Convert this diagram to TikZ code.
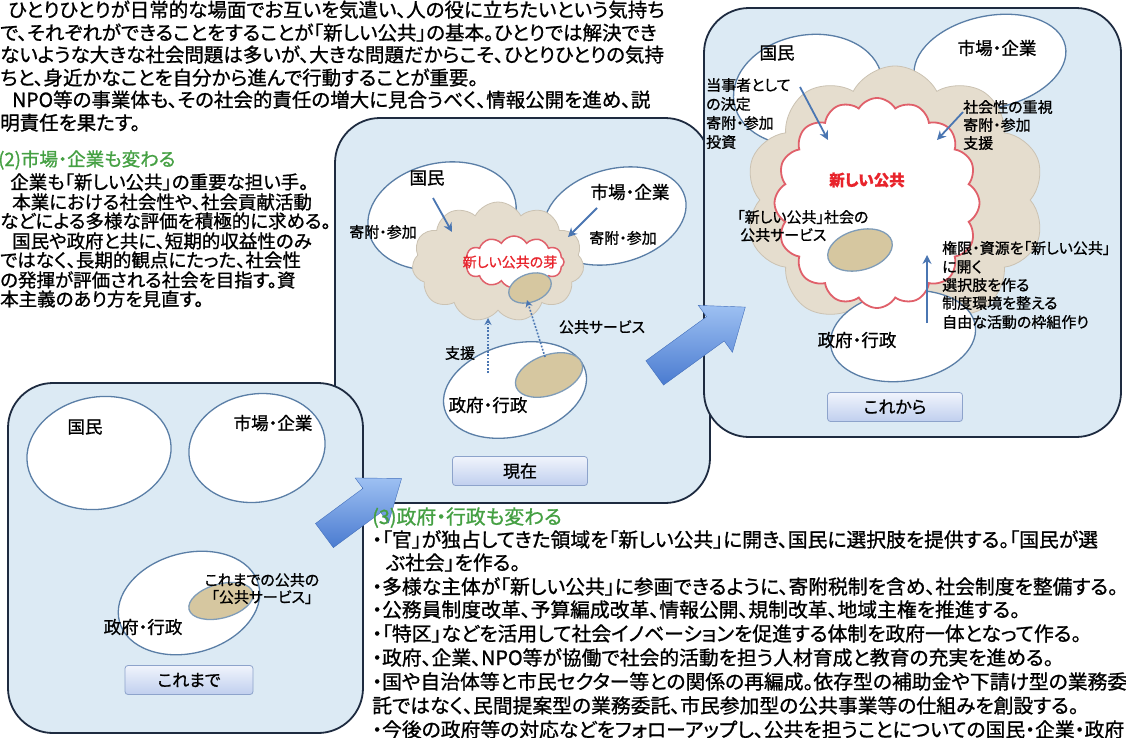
\documentclass[tikz,border=0pt]{standalone}
\usepackage{fontspec}
\setmainfont{Noto Sans CJK JP}[RawFeature=+palt, FakeBold=1.0]
\usetikzlibrary{shapes.geometric,shapes.symbols,arrows.meta}
\definecolor{panelfill}{HTML}{DCEAF4}
\definecolor{panelline}{HTML}{1E2B40}
\definecolor{ellline}{HTML}{5A7EA6}
\definecolor{tanfill}{HTML}{D6C7A0}
\definecolor{tanline}{HTML}{7F9CB8}
\definecolor{cloudfill}{HTML}{E5DDCE}
\definecolor{cloudline}{HTML}{CBC2B2}
\definecolor{redline}{HTML}{E0606A}
\definecolor{redtext}{HTML}{E8242C}
\definecolor{arrowblue}{HTML}{4A76B2}
\definecolor{greentext}{HTML}{45A043}
\definecolor{btntop}{HTML}{F0F4FC}
\definecolor{btnbot}{HTML}{C0CFEE}
\definecolor{btnline}{HTML}{8DA3CB}
\definecolor{bigA}{HTML}{4A7BD0}
\definecolor{bigB}{HTML}{9DC0F2}
\newcommand\fIntro{\fontsize{19.5}{22}\selectfont}
\newcommand\fSec{\fontsize{18.5}{21}\selectfont}
\newcommand\fSecB{\fontsize{19.8}{23}\selectfont}
\newcommand\fLbl{\fontsize{17.5}{20}\selectfont}
\newcommand\fSml{\fontsize{15}{17}\selectfont}
\newcommand\fBtn{\fontsize{17}{20}\selectfont}
\begin{document}
\begin{tikzpicture}[x=1pt,y=-1pt,
  panel/.style={draw=panelline, line width=1.8pt, fill=panelfill, rounded corners=45pt, inner sep=0pt},
  party/.style={ellipse, draw=ellline, line width=1.3pt, fill=white, inner sep=0pt},
  svc/.style={ellipse, draw=tanline, line width=1.3pt, fill=tanfill, inner sep=0pt},
  bigcloud/.style={cloud, cloud puffs=11, cloud puff arc=125, cloud ignores aspect, draw=cloudline, line width=0.8pt, fill=cloudfill, inner sep=0pt},
  redcloud/.style={cloud, cloud puffs=16, cloud puff arc=120, cloud ignores aspect, draw=redline, line width=1.8pt, fill=white, inner sep=0pt},
  ln/.style={anchor=west, inner sep=0pt, text height=0.8em, text depth=0.2em},
  lbl/.style={inner sep=0pt, font=\fLbl},
  sml/.style={inner sep=0pt, font=\fSml},
  sl/.style={anchor=west, inner sep=0pt, font=\fSml},
  btn/.style={draw=btnline, line width=0.8pt, rounded corners=3pt, top color=btntop, bottom color=btnbot, font=\fBtn, inner sep=0pt, minimum height=29pt},
  inarrow/.style={draw=arrowblue, line width=1.8pt, -{Stealth[length=9pt,width=9pt]}},
  dotarrow/.style={draw=arrowblue, line width=1.6pt, dash pattern=on 1.8pt off 1.6pt, -{Stealth[length=7pt,width=7pt]}},
  bigarr/.style={top color=bigB, bottom color=bigA, draw=bigA!90!black, line width=0.4pt}
]
\useasboundingbox (0,0) rectangle (1126,737);
\fill[white] (0,0) rectangle (1126,737);

% ---------- intro text ----------
\begin{scope}[every node/.append style={font=\fIntro}]
\node[ln] (i1) at (8,14) {ひとりひとりが日常的な場面でお互いを気遣い、人の役に立ちたいという気持ち};
\node[ln] (i2) at (0,37) {で、それぞれができることをすることが「新しい公共」の基本。ひとりでは解決でき};
\node[ln] (i3) at (0,59) {ないような大きな社会問題は多いが、大きな問題だからこそ、ひとりひとりの気持};
\node[ln] (i4) at (0,82) {ちと、身近かなことを自分から進んで行動することが重要。};
\node[ln] (i5) at (12,104) {NPO等の事業体も、その社会的責任の増大に見合うべく、情報公開を進め、説};
\node[ln] (i6) at (0,127) {明責任を果たす。};
\end{scope}

% ---------- section (2) ----------
\begin{scope}[every node/.append style={font=\fSec}]
\node[ln, text=greentext] (s2h) at (-2,163) {(2)市場・企業も変わる};
\node[ln] (s21) at (10,186) {企業も「新しい公共」の重要な担い手。};
\node[ln] (s22) at (12,206) {本業における社会性や、社会貢献活動};
\node[ln] (s23) at (0,225) {などによる多様な評価を積極的に求める。};
\node[ln] (s24) at (12,245) {国民や政府と共に、短期的収益性のみ};
\node[ln] (s25) at (0,264) {ではなく、長期的観点にたった、社会性};
\node[ln] (s26) at (0,284) {の発揮が評価される社会を目指す。資};
\node[ln] (s27) at (0,303) {本主義のあり方を見直す。};
\end{scope}

% ---------- panel 2 (現在) ----------
\node[panel, minimum width=375pt, minimum height=385pt] (p2) at (522.5,310.5) {};
\node[party, minimum width=150pt, minimum height=106pt, rotate=12] (m2) at (442,216) {};
\node[party, minimum width=145pt, minimum height=94pt, rotate=15] (b2) at (615,216) {};
\node[bigcloud, minimum width=172pt, minimum height=120pt] (c2) at (498,262) {};
\node[redcloud, cloud puffs=12, minimum width=100pt, minimum height=52pt, line width=1.5pt] (r2) at (514,262) {};
\node[svc, minimum width=44pt, minimum height=28pt, rotate=20] (e2) at (530,288) {};
\node[party, minimum width=146pt, minimum height=92pt, rotate=15] (g2) at (515,390) {};
\node[svc, minimum width=70pt, minimum height=40pt, rotate=20] (f2) at (549,375) {};
\node[lbl] (m2l) at (427,178) {国民};
\node[lbl] (b2l) at (630,192) {市場・企業};
\node[sml] (m2k) at (383,232) {寄附・参加};
\node[sml] (b2k) at (623,238) {寄附・参加};
\node[inner sep=0pt, font=\fontsize{14}{16}\selectfont, text=redtext] (r2l) at (510,262) {新しい公共の芽};
\node[sml] (g2s) at (460,353) {支援};
\node[sml] (g2p) at (602,327) {公共サービス};
\node[lbl] (g2l) at (488,405) {政府・行政};
\node[btn, minimum width=135pt] (btn2) at (520,471) {現在};
\coordinate (a21s) at (433,198); \coordinate (a21e) at (452,232);
\coordinate (a22s) at (597,208); \coordinate (a22e) at (568,237);
\coordinate (d21s) at (488,373); \coordinate (d21e) at (488,318);
\coordinate (d22s) at (545,357); \coordinate (d22e) at (527,300);
\draw[inarrow] (a21s) -- (a21e);
\draw[inarrow] (a22s) -- (a22e);
\draw[dotarrow] (d21s) -- (d21e);
\draw[dotarrow] (d22s) -- (d22e);

% ---------- panel 3 (これから) ----------
\node[panel, minimum width=417pt, minimum height=429pt] (p3) at (912.5,222.5) {};
\node[party, minimum width=150pt, minimum height=110pt, rotate=10] (m3) at (808,90) {};
\node[party, minimum width=154pt, minimum height=92pt, rotate=12] (b3) at (990,62) {};
\node[bigcloud, cloud puffs=10, minimum width=300pt, minimum height=268pt] (c3) at (895,200) {};
\node[party, minimum width=146pt, minimum height=90pt, rotate=8] (g3) at (903,336) {};
\node[redcloud, minimum width=205pt, minimum height=210pt] (r3) at (877,203) {};
\node[svc, minimum width=66pt, minimum height=40pt, rotate=15] (e3) at (860,250) {};
\node[lbl] (m3l) at (777,53) {国民};
\node[lbl] (b3l) at (997,48) {市場・企業};
\node[lbl] (g3l) at (857,340) {政府・行政};
\node[inner sep=0pt, font=\fontsize{15.5}{18}\selectfont\bfseries, text=redtext] (r3l) at (867,180) {新しい公共};
\node[sl] (e3a) at (737,217) {「新しい公共」社会の};
\node[sl] (e3b) at (740,235) {公共サービス};
\node[sl] (m3a) at (706,85) {当事者として};
\node[sl] (m3b) at (706,104) {の決定};
\node[sl] (m3c) at (706,123) {寄附・参加};
\node[sl] (m3d) at (706,142) {投資};
\node[sl] (b3a) at (963,107) {社会性の重視};
\node[sl] (b3b) at (963,125) {寄附・参加};
\node[sl] (b3c) at (963,143) {支援};
\node[sl] (g3a) at (942,248) {権限・資源を「新しい公共」};
\node[sl] (g3b) at (942,267) {に開く};
\node[sl] (g3c) at (942,285) {選択肢を作る};
\node[sl] (g3d) at (942,303) {制度環境を整える};
\node[sl] (g3e) at (942,322) {自由な活動の枠組作り};
\node[btn, minimum width=135pt] (btn3) at (895,407) {これから};
\coordinate (a31s) at (800,87); \coordinate (a31e) at (828,140);
\coordinate (a32s) at (963,112); \coordinate (a32e) at (937,140);
\coordinate (a33s) at (927,323); \coordinate (a33e) at (927,255);
\draw[inarrow] (a31s) -- (a31e);
\draw[inarrow] (a32s) -- (a32e);
\draw[inarrow] (a33s) -- (a33e);

% ---------- panel 1 (これまで) ----------
\node[panel, minimum width=355pt, minimum height=350pt] (p1) at (185.5,558) {};
\node[party, minimum width=145pt, minimum height=112pt, rotate=10] (m1) at (99,453) {};
\node[party, minimum width=137pt, minimum height=108pt, rotate=10] (b1) at (257,448) {};
\node[party, minimum width=144pt, minimum height=100pt, rotate=15] (g1) at (189,603) {};
\node[svc, minimum width=66pt, minimum height=34pt, rotate=15] (e1) at (221,601) {};
\node[lbl] (m1l) at (85,427) {国民};
\node[lbl] (b1l) at (273,423) {市場・企業};
\node[lbl] (g1l) at (143,627) {政府・行政};
\node[sml] (e1a) at (262,580) {これまでの公共の};
\node[sml] (e1b) at (262,597) {「公共サービス」};
\node[btn, minimum width=128pt] (btn1) at (189,680) {これまで};

% ---------- big arrows ----------
\coordinate (ar1) at (363,507);
\coordinate (ar2) at (700,340);
\begin{scope}[shift={(ar1)}, rotate=36.5]
\path[bigarr] (-48,-15) -- (11,-15) -- (11,-28) -- (48,0) -- (11,28) -- (11,15) -- (-48,15) -- cycle;
\end{scope}
\begin{scope}[shift={(ar2)}, rotate=36]
\path[bigarr] (-56,-15) -- (19,-15) -- (19,-29) -- (56,0) -- (19,29) -- (19,15) -- (-56,15) -- cycle;
\end{scope}

% ---------- section (3) ----------
\begin{scope}[every node/.append style={font=\fSecB}]
\node[ln, text=greentext] (s3h) at (372,521) {(3)政府・行政も変わる};
\node[ln] (s31) at (372,544) {・「官」が独占してきた領域を「新しい公共」に開き、国民に選択肢を提供する。「国民が選};
\node[ln] (s32) at (386,567) {ぶ社会」を作る。};
\node[ln] (s33) at (372,591) {・多様な主体が「新しい公共」に参画できるように、寄附税制を含め、社会制度を整備する。};
\node[ln] (s34) at (372,614) {・公務員制度改革、予算編成改革、情報公開、規制改革、地域主権を推進する。};
\node[ln] (s35) at (372,638) {・「特区」などを活用して社会イノベーションを促進する体制を政府一体となって作る。};
\node[ln] (s36) at (372,662) {・政府、企業、NPO等が協働で社会的活動を担う人材育成と教育の充実を進める。};
\node[ln] (s37) at (372,686) {・国や自治体等と市民セクター等との関係の再編成。依存型の補助金や下請け型の業務委};
\node[ln] (s38) at (372,710) {託ではなく、民間提案型の業務委託、市民参加型の公共事業等の仕組みを創設する。};
\node[ln] (s39) at (372,734) {・今後の政府等の対応などをフォローアップし、公共を担うことについての国民・企業・政府};
\end{scope}
\end{tikzpicture}
\end{document}
